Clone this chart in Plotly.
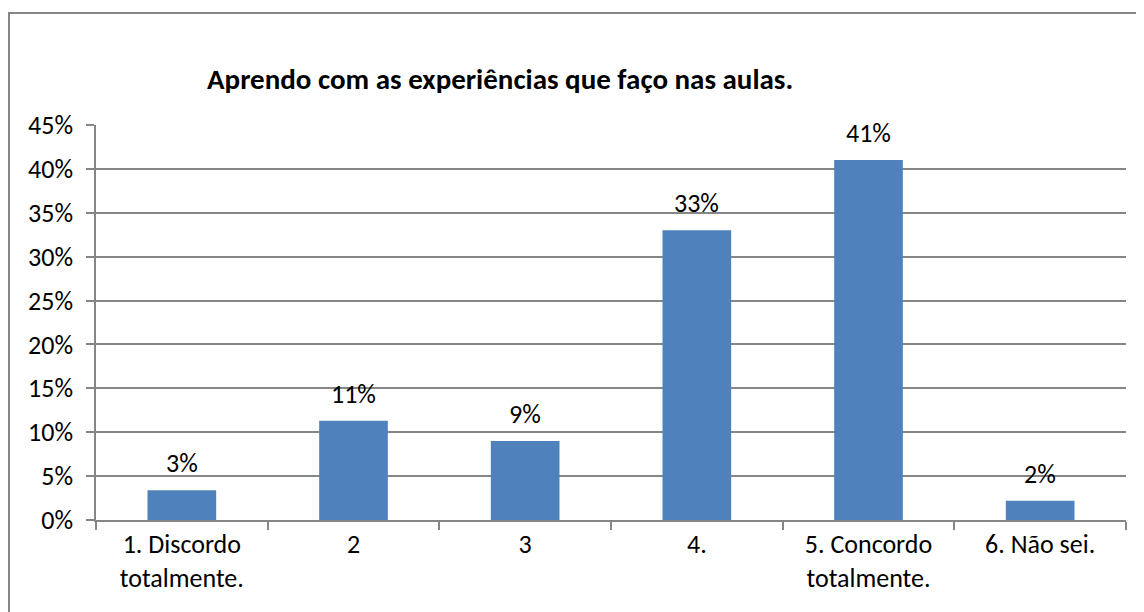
import plotly.graph_objects as go

categories = ["1. Discordo<br>totalmente.", "2", "3", "4.", "5. Concordo<br>totalmente.", "6. Não sei."]
values = [3.4, 11.3, 9.0, 33.0, 41.0, 2.2]
labels = ["3%", "11%", "9%", "33%", "41%", "2%"]
title = "Aprendo com as experiências que faço nas aulas."

FONT = "Carlito, Lato, Open Sans, sans-serif"
W, H = 1144, 612
# page body adds an 8px offset; coordinates below are in figure pixels
L, R, T, B = 88, 26, 117, 100
pw = W - L - R
ph = H - T - B

def px(x):
    return (x - L) / pw

def py(y):
    return (H - B - y) / ph

fig = go.Figure()
fig.add_trace(go.Bar(
    x=categories, y=values,
    marker=dict(color="#4F81BD", line=dict(width=0)),
    width=0.4, hoverinfo="x+y",
))

annotations = [dict(
    x=i, y=v, text=t, xref="x", yref="y", showarrow=False,
    xanchor="center", yanchor="bottom", yshift=9,
    font=dict(family=FONT, size=26, color="#000000"),
) for i, (v, t) in enumerate(zip(values, labels))]

annotations.append(dict(
    text="<b>" + title + "</b>", x=px(492), y=py(71), xref="paper", yref="paper",
    xanchor="center", yanchor="middle", showarrow=False,
    font=dict(family=FONT, size=29, color="#000000"),
))

fig.update_layout(
    width=W, height=H,
    margin=dict(l=L, r=R, t=T, b=B, autoexpand=False),
    plot_bgcolor="white", paper_bgcolor="white",
    showlegend=False,
    font=dict(family=FONT, size=26, color="#000000"),
    xaxis=dict(
        type="category", showgrid=False, showline=True, linecolor="#868686", linewidth=1.5,
        ticks="outside", ticklen=8, tickcolor="#868686", tickwidth=1.5, tickson="boundaries",
        tickfont=dict(family=FONT, size=26), range=[-0.5, 5.5],
    ),
    yaxis=dict(
        range=[0, 45], dtick=5, ticksuffix="%", showgrid=True, gridcolor="#868686", gridwidth=1.5,
        showline=True, linecolor="#868686", linewidth=1.5, ticks="outside", ticklen=8,
        tickcolor="#868686", tickwidth=1.5, tickfont=dict(family=FONT, size=26),
        zeroline=False, ticklabelstandoff=8,
    ),
    annotations=annotations,
    shapes=[dict(
        type="rect", xref="paper", yref="paper",
        x0=px(1), x1=px(1200), y0=py(700), y1=py(5),
        line=dict(color="#868686", width=2), fillcolor="rgba(0,0,0,0)", layer="below",
    )],
)

fig.write_html("out.html")
